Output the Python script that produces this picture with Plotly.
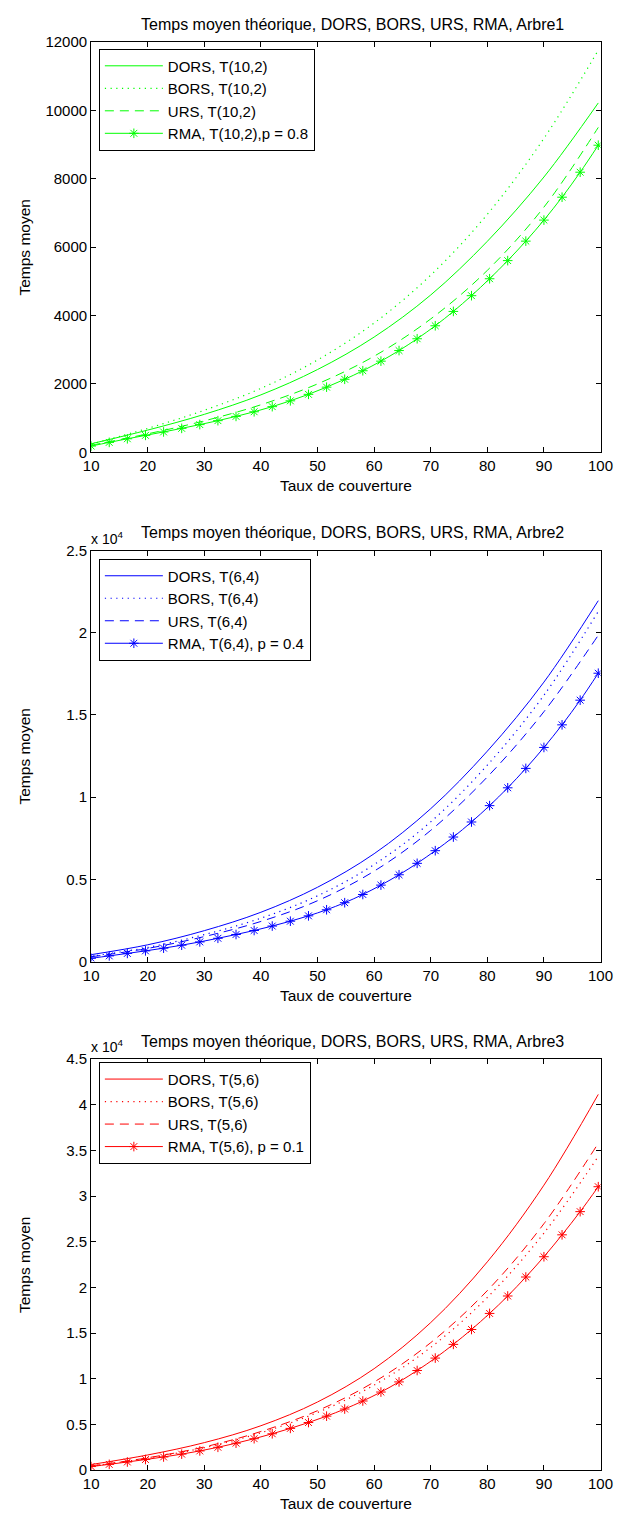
import plotly.graph_objects as go

FONT = "Liberation Sans"
W, H = 629, 1524

# ---------------- data ----------------
X_LINE = [10, 20, 30, 40, 50, 60, 70, 80, 90, 99.6]
X_MARK = [10, 13.2, 16.4, 19.6, 22.8, 26, 29.2, 32.4, 35.6, 38.8, 42, 45.2, 48.4, 51.6,
          54.8, 58, 61.2, 64.4, 67.6, 70.8, 74, 77.2, 80.4, 83.6, 86.8, 90, 93.2, 96.4, 99.6]

# Arbre1, T(10,2)
A1_DORS = [250, 650, 1110, 1680, 2420, 3370, 4600, 6170, 8050, 10216]
A1_BORS = [240, 700, 1230, 1870, 2700, 3780, 5180, 6960, 9180, 11758]
A1_URS = [205, 540, 920, 1390, 2000, 2810, 3900, 5320, 7170, 9500]
A1_RMA = [182, 290, 395, 495, 595, 700, 810, 925, 1050, 1185, 1335, 1505, 1695, 1905, 2135,
          2385, 2665, 2975, 3320, 3700, 4120, 4580, 5075, 5605, 6175, 6790, 7460, 8190, 8980]

# Arbre2, T(6,4)
A2_DORS = [420, 1020, 1880, 3000, 4520, 6560, 9300, 12800, 17000, 21954]
A2_BORS = [320, 860, 1640, 2640, 4000, 5900, 8500, 11950, 16200, 21300]
A2_URS = [290, 800, 1520, 2440, 3700, 5500, 7980, 11230, 15200, 19850]
A2_RMA = [200, 345, 495, 650, 815, 995, 1195, 1415, 1645, 1890, 2160, 2455, 2780, 3150, 3580,
          4080, 4650, 5280, 5975, 6745, 7575, 8490, 9485, 10570, 11750, 13025, 14400, 15900, 17540]

# Arbre3, T(5,6)
A3_DORS = [600, 1650, 3000, 4850, 7450, 11100, 16150, 22800, 31200, 41140]
A3_BORS = [440, 1300, 2450, 4080, 6300, 9300, 13430, 18900, 25950, 34350]
A3_URS = [450, 1340, 2530, 4220, 6500, 9640, 13950, 19650, 26980, 35790]
A3_RMA = [379, 620, 880, 1150, 1430, 1740, 2090, 2490, 2940, 3430, 3970, 4560, 5200, 5900, 6680,
          7560, 8540, 9650, 10900, 12260, 13760, 15390, 17150, 19060, 21140, 23360, 25760, 28300, 31030]

X_TICKS = [10, 20, 30, 40, 50, 60, 70, 80, 90, 100]
Y1_TICKS = [0, 2000, 4000, 6000, 8000, 10000, 12000]
Y2_TICKS = [0, 5000, 10000, 15000, 20000, 25000]
Y2_TEXT = ["0", "0.5", "1", "1.5", "2", "2.5"]
Y3_TICKS = [0, 5000, 10000, 15000, 20000, 25000, 30000, 35000, 40000, 45000]
Y3_TEXT = ["0", "0.5", "1", "1.5", "2", "2.5", "3", "3.5", "4", "4.5"]

PANELS = [
    dict(dors=A1_DORS, bors=A1_BORS, urs=A1_URS, rma=A1_RMA, color="#00ff00",
         labels=["DORS, T(10,2)", "BORS, T(10,2)", "URS, T(10,2)", "RMA, T(10,2),p = 0.8"],
         title="Temps moyen théorique, DORS, BORS, URS, RMA, Arbre1",
         top=33.3, bottom=448.3, yr=[0, 12000], yt=Y1_TICKS, ytt=[str(v) for v in Y1_TICKS],
         legtop=47, exp=False),
    dict(dors=A2_DORS, bors=A2_BORS, urs=A2_URS, rma=A2_RMA, color="#0000ff",
         labels=["DORS, T(6,4)", "BORS, T(6,4)", "URS, T(6,4)", "RMA, T(6,4), p = 0.4"],
         title="Temps moyen théorique, DORS, BORS, URS, RMA, Arbre2",
         top=547.7, bottom=963.3, yr=[0, 25000], yt=Y2_TICKS, ytt=Y2_TEXT,
         legtop=562.7, exp=True),
    dict(dors=A3_DORS, bors=A3_BORS, urs=A3_URS, rma=A3_RMA, color="#ff0000",
         labels=["DORS, T(5,6)", "BORS, T(5,6)", "URS, T(5,6)", "RMA, T(5,6), p = 0.1"],
         title="Temps moyen théorique, DORS, BORS, URS, RMA, Arbre3",
         top=1062, bottom=1477.5, yr=[0, 45000], yt=Y3_TICKS, ytt=Y3_TEXT,
         legtop=1071.7, exp=True),
]

LEFT, RIGHT = 86, 613

fig = go.Figure()
annotations = []
layout = {}


def py(p):
    return 1 - p / H


for i, P in enumerate(PANELS):
    n = i + 1
    xa = "x" if n == 1 else f"x{n}"
    ya = "y" if n == 1 else f"y{n}"
    leg = "legend" if n == 1 else f"legend{n}"
    c = P["color"]
    common = dict(xaxis=xa, yaxis=ya, legend=leg)
    fig.add_trace(go.Scatter(x=X_LINE, y=P["dors"], mode="lines", name=P["labels"][0],
                             line=dict(color=c, width=1, shape="spline"), **common))
    fig.add_trace(go.Scatter(x=X_LINE, y=P["bors"], mode="lines", name=P["labels"][1],
                             line=dict(color=c, width=1.2, dash="1.2px,4.5px", shape="spline"), **common))
    fig.add_trace(go.Scatter(x=X_LINE, y=P["urs"], mode="lines", name=P["labels"][2],
                             line=dict(color=c, width=1, dash="9px,6px", shape="spline"), **common))
    fig.add_trace(go.Scatter(x=X_MARK, y=P["rma"], mode="lines+markers", name=P["labels"][3],
                             line=dict(color=c, width=1, shape="spline"),
                             marker=dict(symbol="asterisk-open", size=8, color=c,
                                         line=dict(color=c, width=1)), **common))

    axis_common = dict(showline=True, linecolor="black", linewidth=1, mirror="ticks",
                       ticks="inside", ticklen=5, tickcolor="black", showgrid=False,
                       zeroline=False, tickfont=dict(family=FONT, size=15, color="black"))
    layout["xaxis" if n == 1 else f"xaxis{n}"] = dict(
        domain=[LEFT / W, RIGHT / W], range=[10, 100], tickvals=X_TICKS,
        anchor=ya, **axis_common)
    layout["yaxis" if n == 1 else f"yaxis{n}"] = dict(
        domain=[py(P["bottom"]), py(P["top"])], range=P["yr"], tickvals=P["yt"],
        ticktext=P["ytt"], anchor=xa, **axis_common)
    layout[leg] = dict(x=94 / W, y=py(P["legtop"] - 7), xanchor="left", yanchor="top",
                       bordercolor="black", borderwidth=1, bgcolor="white",
                       font=dict(family=FONT, size=15, color="black"),
                       tracegroupgap=0, itemwidth=58)

    cx = (LEFT + RIGHT) / 2 / W
    annotations.append(dict(text=P["title"], x=356 / W, y=py(P["top"] - 18), xref="paper",
                            yref="paper", showarrow=False, xanchor="center", yanchor="middle",
                            font=dict(family=FONT, size=16, color="black")))
    annotations.append(dict(text="Taux de couverture", x=cx, y=py(P["bottom"] + 34),
                            xref="paper", yref="paper", showarrow=False, xanchor="center",
                            yanchor="middle", font=dict(family=FONT, size=15.5, color="black")))
    annotations.append(dict(text="Temps moyen", x=17 / W, y=py((P["top"] + P["bottom"]) / 2),
                            xref="paper", yref="paper", showarrow=False, textangle=-90,
                            xanchor="center", yanchor="middle",
                            font=dict(family=FONT, size=15.5, color="black")))
    if P["exp"]:
        annotations.append(dict(text="x 10<sup>4</sup>", x=84 / W, y=py(P["top"] - 13),
                                xref="paper", yref="paper", showarrow=False, xanchor="left",
                                yanchor="middle", font=dict(family=FONT, size=14, color="black")))

fig.update_layout(width=W, height=H, margin=dict(l=0, r=0, t=0, b=0),
                  paper_bgcolor="white", plot_bgcolor="white", showlegend=True,
                  annotations=annotations, **layout)

fig.write_html("out.html")
